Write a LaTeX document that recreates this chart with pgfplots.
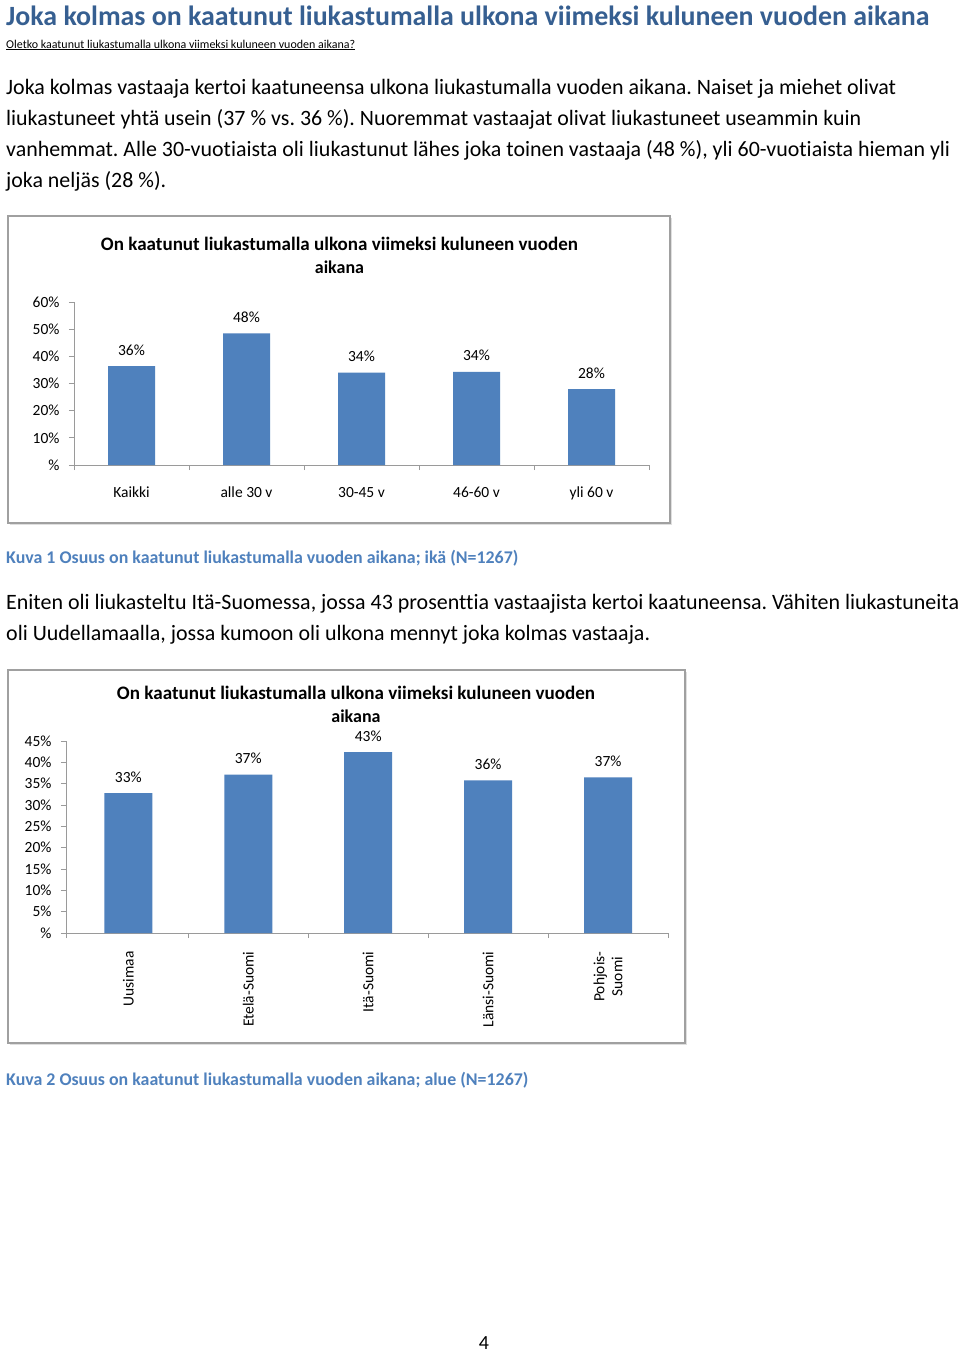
\documentclass[border=0pt]{standalone}
\usepackage{fontspec}
\setmainfont[Ligatures=NoCommon]{Carlito}
\usepackage{graphicx}
\usepackage{pgfplots}
\pgfplotsset{compat=1.18}
\frenchspacing
\definecolor{headblue}{HTML}{365F91}
\definecolor{capblue}{HTML}{4F81BD}
\definecolor{barblue}{HTML}{4F81BD}
\definecolor{framegray}{HTML}{A0A0A0}
\definecolor{axgray}{HTML}{9A9A9A}
\newcommand\fitw[3]{\resizebox{#1pt}{!}{\fontsize{#2}{#2}\selectfont\frenchspacing #3}}
\pgfplotsset{
  pagebar/.style={
    scale only axis, ybar, xmin=-0.5, xmax=4.5, ymin=0,
    axis x line*=bottom, axis y line*=left,
    axis line style={axgray, line width=0.8pt},
    tick style={axgray, line width=0.8pt},
    tick align=outside, major tick length=5pt, minor tick length=5pt,
    xtick={0,1,2,3,4}, minor xtick={-0.5,0.5,1.5,2.5,3.5,4.5},
    major x tick style={draw=none},
    ticklabel style={font=\fontsize{15.5}{18}\selectfont, text=black},
    /pgf/number format/assume math mode=true,
    point meta=explicit symbolic,
    nodes near coords,
    every node near coord/.append style={font=\fontsize{15.5}{18}\selectfont, text=black, anchor=base, yshift=11pt},
    clip=false,
  }
}
\begin{document}
\begin{tikzpicture}
\useasboundingbox (0pt,0pt) rectangle (960pt,-1352pt);
\fill[white] (0pt,0pt) rectangle (960pt,-1352pt);
% header
\node[anchor=base west, inner sep=0pt, text=headblue] at (6pt,-25pt) {\fitw{923}{27}{\bfseries Joka kolmas on kaatunut liukastumalla ulkona viimeksi kuluneen vuoden aikana}};
\node[anchor=base west, inner sep=0pt] at (6pt,-48pt) {\fitw{349}{11}{\underline{Oletko kaatunut liukastumalla ulkona viimeksi kuluneen vuoden aikana?}}};
\node[anchor=base west, inner sep=0pt] at (6pt,-94pt) {\fitw{890}{20}{Joka kolmas vastaaja kertoi kaatuneensa ulkona liukastumalla vuoden aikana. Naiset ja miehet olivat}};
\node[anchor=base west, inner sep=0pt] at (6pt,-125pt) {\fitw{855}{20}{liukastuneet yhtä usein (37 \% vs. 36 \%). Nuoremmat vastaajat olivat liukastuneet useammin kuin}};
\node[anchor=base west, inner sep=0pt] at (6pt,-156pt) {\fitw{944}{20}{vanhemmat. Alle 30-vuotiaista oli liukastunut lähes joka toinen vastaaja (48 \%), yli 60-vuotiaista hieman yli}};
\node[anchor=base west, inner sep=0pt] at (6pt,-187pt) {\fitw{160}{20}{joka neljäs (28 \%).}};
% chart 1 frame
\fill[gray!25] (10pt,-218pt) rectangle (672pt,-525pt);
\draw[framegray, line width=2pt, fill=white] (8pt,-216pt) rectangle (670pt,-523pt);
\node[anchor=base, inner sep=0pt] at (339.5pt,-250pt) {\fitw{477}{18}{\bfseries On kaatunut liukastumalla ulkona viimeksi kuluneen vuoden}};
\node[anchor=base, inner sep=0pt, font=\fontsize{18}{18}\selectfont\bfseries] at (339.5pt,-273pt) {aikana};
\begin{axis}[pagebar, at={(74pt,-465pt)}, anchor=south west,
  width=575pt, height=163pt, ymax=60, bar width=47pt,
  ytick={0,10,20,30,40,50,60},
  yticklabels={\%,10\%,20\%,30\%,40\%,50\%,60\%},
  xticklabels={Kaikki,alle 30 v,30-45 v,46-60 v,yli 60 v},
  xticklabel style={anchor=base, yshift=-27pt},
  yticklabel style={anchor=east, xshift=-6pt},
]
\addplot[fill=barblue, draw=none] coordinates {(0,36.4) [36\%] (1,48.5) [48\%] (2,34.0) [34\%] (3,34.3) [34\%] (4,27.9) [28\%]};
\end{axis}
\node[anchor=base west, inner sep=0pt, text=capblue] at (6pt,-563pt) {\fitw{512}{15.5}{\bfseries Kuva 1 Osuus on kaatunut liukastumalla vuoden aikana; ikä (N=1267)}};
\node[anchor=base west, inner sep=0pt] at (6pt,-609pt) {\fitw{953}{20}{Eniten oli liukasteltu Itä-Suomessa, jossa 43 prosenttia vastaajista kertoi kaatuneensa. Vähiten liukastuneita}};
\node[anchor=base west, inner sep=0pt] at (6pt,-640pt) {\fitw{644}{20}{oli Uudellamaalla, jossa kumoon oli ulkona mennyt joka kolmas vastaaja.}};
% chart 2 frame
\fill[gray!25] (10pt,-672pt) rectangle (687pt,-1045pt);
\draw[framegray, line width=2pt, fill=white] (8pt,-670pt) rectangle (685pt,-1043pt);
\node[anchor=base, inner sep=0pt] at (356pt,-699pt) {\fitw{478}{18}{\bfseries On kaatunut liukastumalla ulkona viimeksi kuluneen vuoden}};
\node[anchor=base, inner sep=0pt, font=\fontsize{18}{18}\selectfont\bfseries] at (356pt,-722pt) {aikana};
\begin{axis}[pagebar, at={(66pt,-933pt)}, anchor=south west,
  width=602pt, height=192pt, xmin=-0.52, xmax=4.5, ymax=45, bar width=48pt,
  minor xtick={-0.52,0.5,1.5,2.5,3.5,4.5},
  ytick={0,5,...,45},
  yticklabels={\%,5\%,10\%,15\%,20\%,25\%,30\%,35\%,40\%,45\%},
  xticklabels={Uusimaa,Etelä-Suomi,Itä-Suomi,Länsi-Suomi,{Pohjois-\\Suomi}},
  xticklabel style={rotate=90, anchor=east, align=center, xshift=-10pt},
  yticklabel style={anchor=east, xshift=-6pt},
]
\addplot[fill=barblue, draw=none] coordinates {(0,32.8) [33\%] (1,37.1) [37\%] (2,42.4) [43\%] (3,35.8) [36\%] (4,36.5) [37\%]};
\end{axis}
\node[anchor=base west, inner sep=0pt, text=capblue] at (6pt,-1085pt) {\fitw{522}{15.5}{\bfseries Kuva 2 Osuus on kaatunut liukastumalla vuoden aikana; alue (N=1267)}};
\node[anchor=base, inner sep=0pt, font=\fontsize{20}{20}\selectfont] at (484pt,-1349pt) {4};
\end{tikzpicture}
\end{document}
